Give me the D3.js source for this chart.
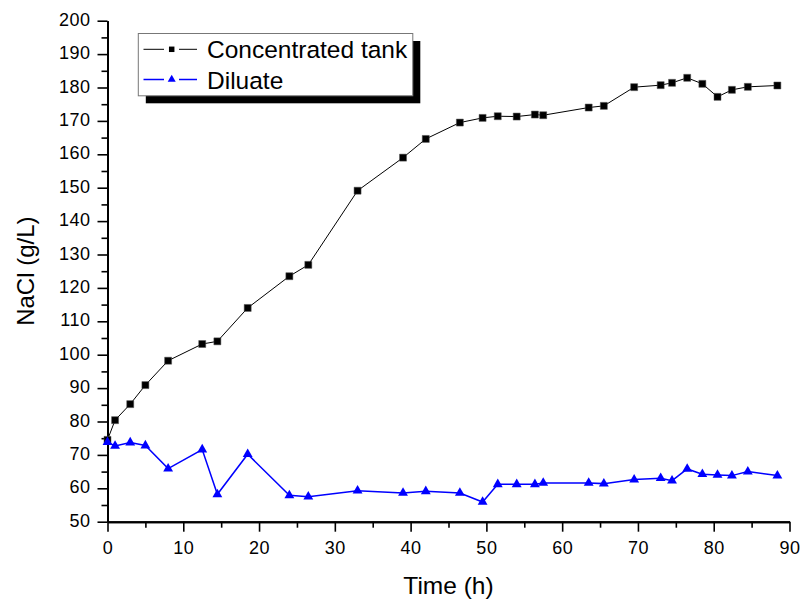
<!DOCTYPE html>
<html>
<head>
<meta charset="utf-8">
<script src="https://cdn.jsdelivr.net/npm/d3@7"></script>
<style>
  html, body { margin: 0; padding: 0; background: #fff; }
  svg { display: block; font-family: Arial, "Liberation Sans", sans-serif; }
</style>
</head>
<body>
<svg id="chart" width="802" height="604"></svg>
<script>
// Sampling times (h)
const concTime = [0, 1, 3, 5, 8, 12.5, 14.5, 18.5, 24, 26.5, 33, 39, 42, 46.5, 49.5, 51.5, 54, 56.4, 57.5, 63.5, 65.5, 69.5, 73, 74.5, 76.5, 78.5, 80.5, 82.4, 84.5, 88.4];
// NaCl in the concentrated tank (g/L)
const concValues = [74.5, 80.4, 85.2, 90.9, 98.2, 103.2, 104.0, 114.0, 123.5, 126.9, 149.1, 159.0, 164.6, 169.5, 170.9, 171.4, 171.3, 171.9, 171.7, 174.0, 174.5, 180.1, 180.7, 181.4, 182.9, 181.1, 177.2, 179.3, 180.2, 180.6];
// NaCl in the diluate (g/L)
const dilTime = concTime;
const dilValues = [73.8, 72.7, 73.7, 72.8, 65.9, 71.6, 58.2, 70.2, 57.9, 57.5, 59.3, 58.6, 59.1, 58.6, 55.9, 61.2, 61.2, 61.2, 61.6, 61.6, 61.4, 62.6, 63.0, 62.3, 65.8, 64.2, 64.0, 63.8, 65.0, 63.8];

const xTicks = [0, 10, 20, 30, 40, 50, 60, 70, 80, 90];
const yTicks = [50, 60, 70, 80, 90, 100, 110, 120, 130, 140, 150, 160, 170, 180, 190, 200];
const seriesNames = ["Concentrated tank", "Diluate"];

const svg = d3.select("#chart");
const plot = { left: 107.5, right: 789.5, top: 20.7, bottom: 521.7 };

const x = d3.scaleLinear().domain([0, 90]).range([plot.left, plot.right]);
const y = d3.scaleLinear().domain([50, 200]).range([plot.bottom, plot.top]);

// Minor ticks
const xMinor = d3.range(5, 90, 10);
const yMinor = d3.range(55, 200, 10);

const gxMinor = svg.append("g").attr("transform", `translate(0,${plot.bottom})`)
  .call(d3.axisBottom(x).tickValues(xMinor).tickSize(6).tickSizeOuter(0).tickFormat(""));
const gyMinor = svg.append("g").attr("transform", `translate(${plot.left},0)`)
  .call(d3.axisLeft(y).tickValues(yMinor).tickSize(6).tickSizeOuter(0).tickFormat(""));

const gx = svg.append("g").attr("transform", `translate(0,${plot.bottom})`)
  .call(d3.axisBottom(x).tickValues(xTicks).tickSize(10).tickSizeOuter(0).tickPadding(10).tickFormat(d3.format("d")));
const gy = svg.append("g").attr("transform", `translate(${plot.left},0)`)
  .call(d3.axisLeft(y).tickValues(yTicks).tickSize(10).tickSizeOuter(0).tickPadding(7).tickFormat(d3.format("d")));

[gx, gy, gxMinor, gyMinor].forEach(g => {
  g.selectAll(".domain").attr("stroke", "#000").attr("stroke-width", 2);
  g.selectAll(".tick line").attr("stroke", "#000").attr("stroke-width", 1.6);
  g.selectAll(".tick text").attr("fill", "#000").style("font-size", "18px")
    .style("letter-spacing", "0.5px")
    .style("font-family", "Arial, 'Liberation Sans', sans-serif");
});
gy.selectAll(".tick text").attr("dy", "0.25em");

// Axis titles
svg.append("text")
  .attr("x", (plot.left + plot.right) / 2).attr("y", 594)
  .attr("text-anchor", "middle").style("font-size", "24.5px").attr("fill", "#000")
  .text("Time (h)");
svg.append("text")
  .attr("transform", `translate(34,${(plot.top + plot.bottom) / 2}) rotate(-90)`)
  .attr("text-anchor", "middle").style("font-size", "24px").attr("fill", "#000")
  .text("NaCl (g/L)");

const line = d3.line().x(d => x(d[0])).y(d => y(d[1]));
const concData = concTime.map((t, i) => [t, concValues[i]]);
const dilData = dilTime.map((t, i) => [t, dilValues[i]]);

// Concentrated tank series
svg.append("path").datum(concData).attr("d", line)
  .attr("fill", "none").attr("stroke", "#000").attr("stroke-width", 1);
svg.append("g").selectAll("path").data(concData).join("path")
  .attr("transform", d => `translate(${x(d[0])},${y(d[1])})`)
  .attr("d", d3.symbol(d3.symbolSquare, 49))
  .attr("fill", "#000").attr("stroke", "#555").attr("stroke-width", 0.5);

// Diluate series
svg.append("path").datum(dilData).attr("d", line)
  .attr("fill", "none").attr("stroke", "#0000ff").attr("stroke-width", 1.5);
svg.append("g").selectAll("path").data(dilData).join("path")
  .attr("transform", d => `translate(${x(d[0])},${y(d[1])})`)
  .attr("d", d3.symbol(d3.symbolTriangle, 42))
  .attr("fill", "#0000ff");

// Legend with drop shadow
const leg = { x: 138.3, y: 33.5, w: 274.5, h: 62.3, off: 7.5 };
svg.append("rect").attr("x", leg.x + leg.off).attr("y", leg.y + leg.off)
  .attr("width", leg.w).attr("height", leg.h).attr("fill", "#000");
svg.append("rect").attr("x", leg.x).attr("y", leg.y)
  .attr("width", leg.w).attr("height", leg.h).attr("fill", "#fff")
  .attr("stroke", "#777").attr("stroke-width", 1);

const legendRows = [
  { name: seriesNames[0], color: "#000", sym: d3.symbolSquare, size: 30, lw: 1, ly: 49.3, ty: 58.3 },
  { name: seriesNames[1], color: "#0000ff", sym: d3.symbolTriangle, size: 28, lw: 1.5, ly: 79.5, ty: 89.3 }
];
legendRows.forEach(r => {
  svg.append("line").attr("x1", 143.5).attr("x2", 164).attr("y1", r.ly).attr("y2", r.ly)
    .attr("stroke", r.color).attr("stroke-width", r.lw);
  svg.append("line").attr("x1", 179).attr("x2", 197).attr("y1", r.ly).attr("y2", r.ly)
    .attr("stroke", r.color).attr("stroke-width", r.lw);
  svg.append("path").attr("transform", `translate(171.7,${r.ly})`)
    .attr("d", d3.symbol(r.sym, r.size)).attr("fill", r.color);
  svg.append("text").attr("x", 207).attr("y", r.ty)
    .style("font-size", "24.5px").attr("fill", "#000").text(r.name);
});
</script>
</body>
</html>
